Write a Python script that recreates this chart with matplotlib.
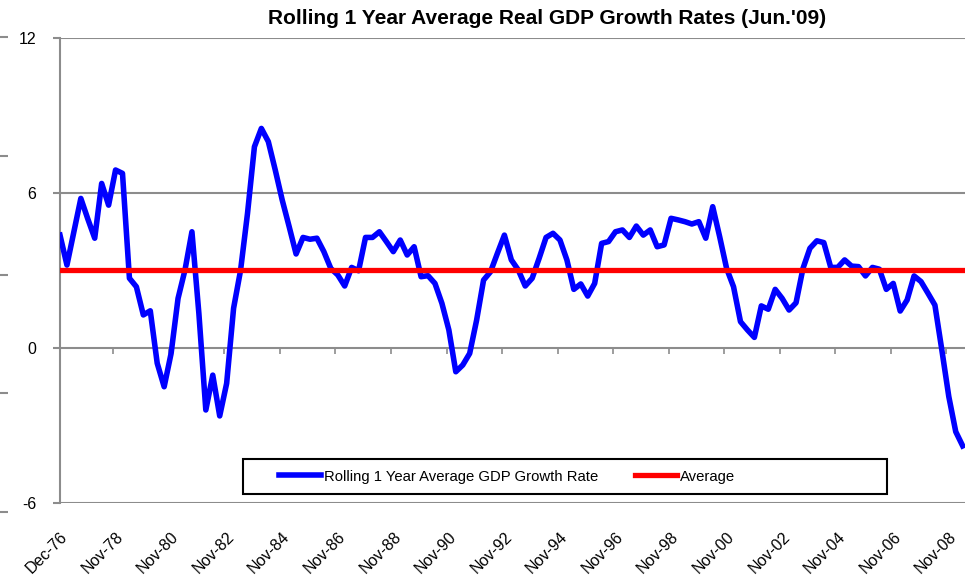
import matplotlib
matplotlib.use("Agg")
import matplotlib.pyplot as plt
from matplotlib.patches import Rectangle
import numpy as np

plt.rcParams['font.family'] = ['Liberation Sans', 'DejaVu Sans']

# ---- data (quarterly, Dec-76 .. Jun-09) ----
growth = [4.37, 3.21, 4.50, 5.79, 5.00, 4.25, 6.37, 5.53, 6.89, 6.76,
          2.70, 2.37, 1.28, 1.44, -0.59, -1.50, -0.21, 1.92, 3.02, 4.50,
          1.34, -2.40, -1.05, -2.63, -1.37, 1.54, 3.00, 5.20, 7.79, 8.50,
          7.99, 6.89, 5.73, 4.70, 3.64, 4.28, 4.21, 4.25, 3.73, 3.08,
          2.83, 2.40, 3.12, 2.99, 4.28, 4.28, 4.50, 4.12, 3.73, 4.18,
          3.60, 3.92, 2.76, 2.80, 2.50, 1.73, 0.70, -0.92, -0.66, -0.21,
          1.08, 2.63, 2.95, 3.67, 4.37, 3.41, 3.02, 2.40, 2.70, 3.47,
          4.28, 4.44, 4.18, 3.41, 2.27, 2.48, 2.01, 2.50, 4.05, 4.12,
          4.50, 4.57, 4.28, 4.72, 4.37, 4.57, 3.92, 3.99, 5.02, 4.96,
          4.89, 4.80, 4.89, 4.25, 5.47, 4.31, 3.08, 2.37, 1.02, 0.70,
          0.41, 1.63, 1.50, 2.27, 1.92, 1.47, 1.75, 3.08, 3.86, 4.15,
          4.08, 3.12, 3.12, 3.41, 3.17, 3.15, 2.79, 3.12, 3.05, 2.27,
          2.50, 1.43, 1.86, 2.79, 2.57, 2.12, 1.66, -0.08, -1.88, -3.24,
          -3.79]
average_value = 3.02
months = [3 * i for i in range(len(growth))]   # months since Dec-76

tick_labels = ["Dec-76", "Nov-78", "Nov-80", "Nov-82", "Nov-84", "Nov-86",
               "Nov-88", "Nov-90", "Nov-92", "Nov-94", "Nov-96", "Nov-98",
               "Nov-00", "Nov-02", "Nov-04", "Nov-06", "Nov-08"]
tick_months = [0] + [23 + 24 * k for k in range(len(tick_labels) - 1)]
label_months = [24 * k for k in range(len(tick_labels))]
y_ticks = [-6, 0, 6, 12]

title = "Rolling 1 Year Average Real GDP Growth Rates (Jun.'09)"
series_label = "Rolling 1 Year Average GDP Growth Rate"
avg_label = "Average"

# ---- figure ----
W, H = 971, 579
fig = plt.figure(figsize=(W / 100, H / 100), dpi=100)
L, R, T, B = 60, 965, 38, 503
ax = fig.add_axes([L / W, 1 - B / H, (R - L) / W, (B - T) / H])

grid_col = "#8c8c8c"
ax.set_ylim(-6, 12)
ax.set_xlim(0, 391)
ax.set_yticks(y_ticks)
ax.set_yticklabels([str(v) for v in y_ticks])
ax.yaxis.grid(True, color=grid_col, lw=1.5)
ax.set_axisbelow(True)
for s in ["top", "right", "bottom"]:
    ax.spines[s].set_visible(False)
ax.spines["left"].set_color(grid_col)
ax.spines["left"].set_linewidth(1.5)
ax.tick_params(axis="y", length=5, width=1.5, color=grid_col, pad=12,
               labelsize=11.5)

ax.set_xticks(label_months)
ax.set_xticklabels(tick_labels, rotation=45, ha="right", va="top",
                   rotation_mode="anchor")
ax.tick_params(axis="x", length=0, pad=19, labelsize=11.5)

# tick marks along the zero line
sec = ax.secondary_xaxis(1 / 3)
sec.set_xticks(tick_months)
sec.set_xticklabels([])
sec.tick_params(axis="x", direction="out", length=4, width=1.2, color=grid_col)
sec.spines["bottom"].set_visible(False)
sec.spines["top"].set_visible(False)

avg_series = [average_value] * len(growth)
l1, = ax.plot(months, growth, color="#0000ff", lw=4, solid_joinstyle="round",
              zorder=3, label=series_label)
l2, = ax.plot(months, avg_series, color="#ff0000", lw=3.8, zorder=4,
              label=avg_label)

# legend
ax.add_patch(Rectangle(((243 - L) / (R - L), (B - 494) / (B - T)),
                       644 / (R - L), 35 / (B - T), transform=ax.transAxes,
                       fill=True, facecolor="white", edgecolor="black",
                       lw=1.5, zorder=5))
leg = ax.legend(handles=[l1, l2], loc="center left", ncol=2, frameon=False,
                bbox_to_anchor=((279 - L) / (R - L), (B - 476.5) / (B - T)),
                borderpad=0, borderaxespad=0, fontsize=10.7,
                handlelength=2.8, handletextpad=0.25, columnspacing=2.45)
leg.set_zorder(6)

fig.text(547.5 / W, 1 - 18 / H, title, ha="center", va="center",
         fontsize=15, fontweight="bold")

# stray tick marks at the far left edge
ax2 = fig.add_axes([0, 1 - 512 / H, 0.01, (512 - 37) / H])
ax2.set_ylim(0, 4)
ax2.set_yticks([0, 1, 2, 3, 4])
ax2.set_yticklabels([])
ax2.set_xticks([])
for s in ax2.spines.values():
    s.set_visible(False)
ax2.tick_params(axis="y", direction="in", length=6, width=1.5, color=grid_col)
ax2.patch.set_visible(False)

fig.savefig("out.png", dpi=100)
